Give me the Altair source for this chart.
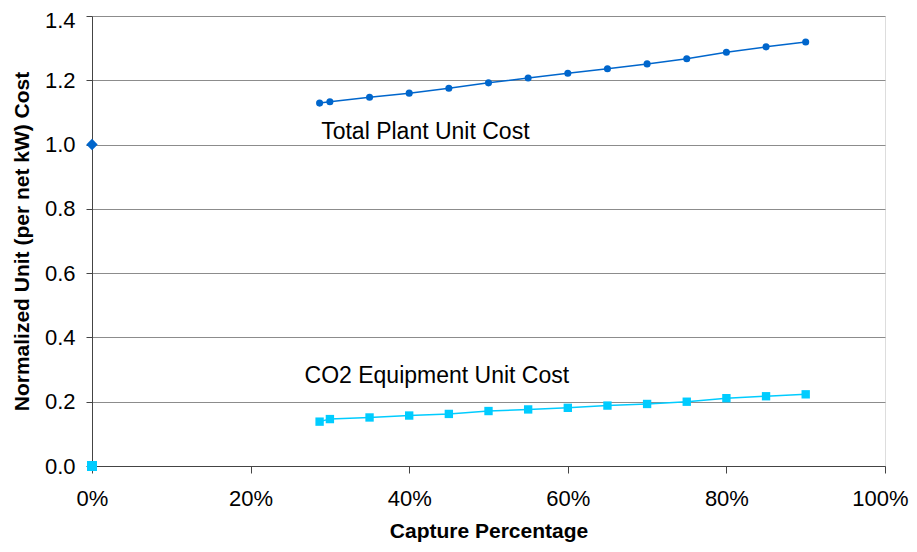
import altair as alt
import pandas as pd

# Capture percentage (fraction) for the two cost series
capture = [0.287, 0.30, 0.35, 0.40, 0.45, 0.50, 0.55, 0.60, 0.65, 0.70, 0.75, 0.80, 0.85, 0.90]
total_cost = [1.129, 1.133, 1.147, 1.160, 1.175, 1.192, 1.207, 1.222, 1.236, 1.251, 1.267, 1.287, 1.304, 1.319]
co2_cost = [0.138, 0.146, 0.151, 0.157, 0.162, 0.171, 0.176, 0.181, 0.188, 0.193, 0.200, 0.211, 0.217, 0.223]

# Reference (no capture) points
base_capture = [0.0]
base_total = [1.0]
base_co2 = [0.0]

# Annotations
label_text = ["Total Plant Unit Cost", "CO2 Equipment Unit Cost"]
label_x = [0.289, 0.268]
label_y = [1.017, 0.259]

x_ticks = [0.0, 0.2, 0.4, 0.6, 0.8, 1.0]
y_ticks = [0.0, 0.2, 0.4, 0.6, 0.8, 1.0, 1.2, 1.4]

BLUE = "#0066CC"
CYAN = "#00CCFF"
FONT = "Liberation Sans"

df_total = pd.DataFrame({"x": capture, "y": total_cost})
df_co2 = pd.DataFrame({"x": capture, "y": co2_cost})
df_bt = pd.DataFrame({"x": base_capture, "y": base_total})
df_bc = pd.DataFrame({"x": base_capture, "y": base_co2})
df_lab = pd.DataFrame({"t": label_text, "x": label_x, "y": label_y})

xs = alt.Scale(domain=[0, 1], nice=False, zero=True)
ys = alt.Scale(domain=[0, 1.4], nice=False)

x_axis = alt.Axis(
    values=x_ticks, format=".0%", grid=False, title="Capture Percentage",
    labelFontSize=22, labelFont=FONT, labelColor="#000", labelPadding=15, labelFlush=False,
    labelOffset={"condition": {"test": "datum.value >= 1", "value": -5}, "value": 0},
    tickSize=7, tickColor="#444", domainColor="#444",
    titleFontSize=21, titleFont=FONT, titleFontWeight="bold", titleColor="#000",
    titleY=71, titleBaseline="alphabetic",
)
y_axis = alt.Axis(
    values=y_ticks, format=".1f", grid=True, gridColor="#8c8c8c", gridWidth=1,
    title="Normalized Unit (per net kW) Cost",
    labelFontSize=22, labelFont=FONT, labelColor="#000", labelPadding=11, labelFlush=False,
    labelOffset={"condition": {"test": "datum.value >= 1.4", "value": 4}, "value": 0},
    tickSize=6, tickColor="#444", domainColor="#444",
    titleFontSize=21, titleFont=FONT, titleFontWeight="bold", titleColor="#000",
    titleX=-64, titleY=225, titleAngle=-90, titleBaseline="alphabetic", titleAlign="center",
)

X = alt.X("x:Q", scale=xs, axis=x_axis)
Y = alt.Y("y:Q", scale=ys, axis=y_axis)
Xn = alt.X("x:Q", scale=xs)
Yn = alt.Y("y:Q", scale=ys)

total_line = alt.Chart(df_total).mark_line(color=BLUE, strokeWidth=1.5).encode(x=X, y=Y)
total_pts = alt.Chart(df_total).mark_point(filled=True, shape="circle", size=50, color=BLUE, opacity=1).encode(x=Xn, y=Yn)
co2_line = alt.Chart(df_co2).mark_line(color=CYAN, strokeWidth=1.5).encode(x=Xn, y=Yn)
co2_pts = alt.Chart(df_co2).mark_point(filled=True, shape="square", size=70, color=CYAN, opacity=1).encode(x=Xn, y=Yn)
bt_pt = alt.Chart(df_bt).mark_point(filled=True, shape="diamond", size=130, color=BLUE, opacity=1, clip=False).encode(x=Xn, y=Yn)
bc_pt = alt.Chart(df_bc).mark_point(filled=True, shape="square", size=100, color=CYAN, opacity=1, clip=False).encode(x=Xn, y=Yn)
labels = alt.Chart(df_lab).mark_text(
    align="left", baseline="alphabetic", fontSize=23, font=FONT, color="#000"
).encode(x=Xn, y=Yn, text="t:N")

chart = alt.layer(total_line, total_pts, co2_line, co2_pts, labels, bt_pt, bc_pt).properties(
    width=793, height=450,
    autosize=alt.AutoSizeParams(type="none"),
    padding={"left": 84, "top": 8, "right": 24, "bottom": 77},
).configure_view(stroke=None).configure(background="white")

chart.save("out.html", embed_options={"renderer": "svg", "actions": False})
